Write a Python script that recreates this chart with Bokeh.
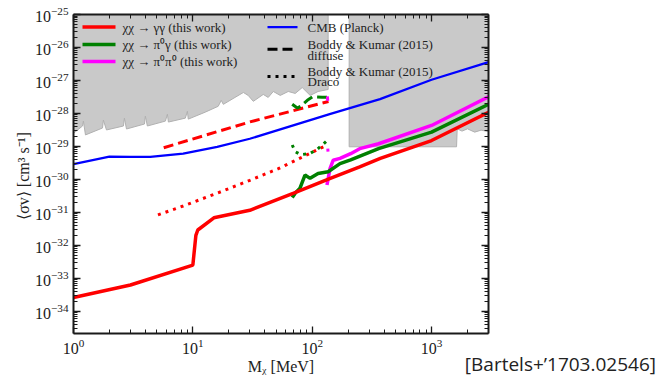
from bokeh.plotting import figure
from bokeh.layouts import row
from bokeh.models import (LogAxis, FixedTicker, LogTickFormatter, CustomJSTickFormatter,
                          Range1d, LinearScale, Div)
from bokeh.core.properties import value
from bokeh.embed import file_html
from bokeh.resources import INLINE

SERIF = "Liberation Serif"
INK = "#1a1a1a"

# ---- upper limits on <sigma v> [cm^3 s^-1] vs dark-matter mass [MeV] ----
# chi chi -> gamma gamma (this work)
mass_gg = [1, 3, 10, 10.6, 11, 15, 30, 70, 140, 250, 372, 1000, 3000]
sv_gg = [2.6e-34, 6.2e-34, 2.5e-33, 2.0e-32, 2.9e-32, 6.8e-32, 1.15e-31,
         3.8e-31, 1.05e-30, 2.4e-30, 4.3e-30, 1.5e-29, 1.07e-28]

# chi chi -> pi0 gamma (this work)
mass_pg = [68, 72, 79, 87, 96, 112, 136, 171, 210, 360, 1000, 3000]
sv_pg = [2.8e-31, 3.8e-31, 5.4e-31, 1.35e-30, 1.07e-30, 1.5e-30, 1.7e-30,
         3.0e-30, 3.9e-30, 8.5e-30, 2.7e-29, 1.9e-28]

# chi chi -> pi0 pi0 (this work)
mass_pp = [133, 141, 150, 171, 210, 250, 360, 1000, 3000]
sv_pp = [6.7e-31, 2.1e-30, 3.8e-30, 4.3e-30, 6.0e-30, 8.5e-30, 1.2e-29,
         4.3e-29, 3.2e-28]

# CMB (Planck)
mass_cmb = [1, 2, 3, 4.4, 8.3, 16, 30, 140, 370, 1000, 3000]
sv_cmb = [2.9e-30, 4.9e-30, 4.8e-30, 4.8e-30, 6.0e-30, 9.6e-30, 1.7e-29,
          9.5e-29, 2.7e-28, 1.05e-27, 3.6e-27]

# Boddy & Kumar (2015), diffuse
mass_bk_gg_diff = [5.7, 30, 137]
sv_bk_gg_diff = [9.1e-30, 5.5e-29, 2.3e-28]
mass_bk_pg_diff = [68, 75, 80, 91, 101, 121, 136]
sv_bk_pg_diff = [1.9e-28, 1.45e-28, 1.65e-28, 2.5e-28, 3.2e-28, 3.1e-28, 3.1e-28]
mass_bk_pp_diff = [134, 135]
sv_bk_pp_diff = [3.3e-28, 2.4e-28]

# Boddy & Kumar (2015), Draco
mass_bk_gg_draco = [5.1, 8.3, 16, 30, 52, 125]
sv_bk_gg_draco = [8.3e-32, 1.55e-31, 3.8e-31, 9.3e-31, 2.1e-30, 9.8e-30]
mass_bk_pg_draco = [68, 72, 80, 95, 110, 125, 136]
sv_bk_pg_draco = [1.1e-29, 6.9e-30, 5.6e-30, 6.0e-30, 8.0e-30, 1.2e-29, 1.6e-29]
mass_bk_pp_draco = [135, 136]
sv_bk_pp_draco = [8.5e-30, 6.3e-30]

# excluded regions (grey), lower edges
mass_excl_low = [1.0, 1.19, 1.21, 1.26, 1.75, 1.78, 1.89, 2.62, 2.67, 2.78,
                 3.93, 4.0, 4.16, 5.89, 6.12, 6.24, 8.65, 9.0, 9.16, 12.7,
                 16.3, 17.3, 18.0, 26.5, 29.1, 32.1, 38.9, 42.8, 47.2, 54.0,
                 63.0, 72.1, 82.5, 96.2, 112, 136]
sv_excl_low = [2.5e-29, 4.14e-29, 5.84e-29, 2.22e-29, 3.6e-29, 6.25e-29,
               3.14e-29, 4.14e-29, 7.18e-29, 3.36e-29, 4.75e-29, 8.24e-29,
               4.14e-29, 5.84e-29, 9.46e-29, 5.46e-29, 7.18e-29, 1.16e-28,
               6.7e-29, 1.09e-28, 1.64e-28, 2.48e-28, 1.88e-28, 4.31e-28,
               3.51e-28, 2.32e-28, 3.76e-28, 3.05e-28, 4.62e-28, 3.51e-28,
               4.62e-28, 4.03e-28, 6.08e-28, 3.51e-28, 4.62e-28, 5.31e-28]
mass_excl_high = [204, 1620, 1640, 1800, 2000, 2300, 2600, 3000]
sv_excl_high = [9.7e-30, 9.7e-30, 3.4e-29, 2.9e-29, 3.4e-29, 2.7e-29, 3.1e-29, 2.8e-29]
sv_ceiling = 1e-24

# axis decades
x_exponents = [0, 1, 2, 3]
y_exponents = list(range(-34, -24))

x_major = [10.0 ** e for e in x_exponents]
x_minor = [k * 10.0 ** e for e in x_exponents for k in range(2, 10) if k * 10.0 ** e <= 3000]
y_major = [10.0 ** e for e in y_exponents]
y_minor = [k * 10.0 ** e for e in range(-35, -25) for k in range(2, 10)]

FRAME_L, FRAME_R, FRAME_T, FRAME_B = 73, 488, 14, 337
MAIN_W, H = 490, 377

p = figure(width=MAIN_W, height=H, x_axis_type="log", y_axis_type="log",
           x_range=Range1d(1, 3000), y_range=Range1d(2.1e-35, 1e-25),
           output_backend="svg", toolbar_location=None,
           min_border_left=FRAME_L, min_border_right=MAIN_W - FRAME_R,
           min_border_top=FRAME_T, min_border_bottom=H - FRAME_B,
           background_fill_color="white", border_fill_color="white")
p.grid.visible = False
p.outline_line_color = None

# pixel-like helper coordinates for the key
p.extra_x_ranges = {"px": Range1d(FRAME_L, FRAME_R)}
p.extra_y_ranges = {"py": Range1d(FRAME_B, FRAME_T)}
p.extra_x_scales = {"px": LinearScale()}
p.extra_y_scales = {"py": LinearScale()}

blank_fmt = CustomJSTickFormatter(code="return '';")


def style_axis(ax, labels):
    ax.axis_line_color = INK
    ax.axis_line_width = 2
    ax.major_tick_line_color = INK
    ax.major_tick_line_width = 1.3
    ax.minor_tick_line_color = INK
    ax.minor_tick_line_width = 1
    ax.major_tick_in = 7
    ax.major_tick_out = 0
    ax.minor_tick_in = 4
    ax.minor_tick_out = 0
    if labels:
        ax.formatter = LogTickFormatter()
        ax.major_label_text_font = SERIF
        ax.major_label_text_font_size = "16px"
        ax.major_label_text_color = INK
        ax.major_label_standoff = 5
        ax.axis_label_text_font = SERIF
        ax.axis_label_text_font_style = "normal"
        ax.axis_label_text_color = "#222"
    else:
        ax.formatter = blank_fmt
        ax.major_label_text_font_size = "0px"
        ax.major_label_standoff = 0


xt = FixedTicker(ticks=x_major, minor_ticks=x_minor)
yt = FixedTicker(ticks=y_major, minor_ticks=y_minor)
p.xaxis.ticker = xt
p.yaxis.ticker = yt
style_axis(p.xaxis[0], True)
style_axis(p.yaxis[0], True)
p.xaxis.axis_label = "Mᵪ [MeV]"
p.xaxis.axis_label_text_font_size = "16px"
p.xaxis.axis_label_standoff = 1
p.yaxis.axis_label = "⟨σv⟩  [cm³ s⁻¹]"
p.yaxis.axis_label_text_font_size = "16px"
p.yaxis.axis_label_standoff = 0
top_ax = LogAxis(ticker=xt)
right_ax = LogAxis(ticker=yt)
style_axis(top_ax, False)
style_axis(right_ax, False)
p.add_layout(top_ax, "above")
p.add_layout(right_ax, "right")

# excluded regions
GREY = "#c9c9c9"
p.patch(mass_excl_low + [mass_excl_low[-1], mass_excl_low[0]],
        sv_excl_low + [sv_ceiling, sv_ceiling],
        fill_color=GREY, line_color="#b0b0b0", line_width=1)
p.patch(mass_excl_high + [mass_excl_high[-1], mass_excl_high[0]],
        sv_excl_high + [sv_ceiling, sv_ceiling],
        fill_color=GREY, line_color="#b0b0b0", line_width=1)

RED, GREEN, MAG, BLUE = "#ff0000", "#008000", "#ff00ff", "#0000ff"
DASH, DOT = "10 5", "3 5"

p.line(mass_cmb, sv_cmb, color=BLUE, line_width=2.3)
p.line(mass_bk_gg_diff, sv_bk_gg_diff, color=RED, line_width=3, line_dash=DASH)
p.line(mass_bk_pg_diff, sv_bk_pg_diff, color=GREEN, line_width=3, line_dash=DASH)
p.line(mass_bk_pp_diff, sv_bk_pp_diff, color=MAG, line_width=3, line_dash=DASH)
p.line(mass_bk_gg_draco, sv_bk_gg_draco, color=RED, line_width=3, line_dash=DOT)
p.line(mass_bk_pg_draco, sv_bk_pg_draco, color=GREEN, line_width=3, line_dash=DOT)
p.line(mass_bk_pp_draco, sv_bk_pp_draco, color=MAG, line_width=3, line_dash=DOT)
p.line(mass_pp, sv_pp, color=MAG, line_width=3.5)
p.line(mass_pg, sv_pg, color=GREEN, line_width=3.5)
p.line(mass_gg, sv_gg, color=RED, line_width=3.5)

# ---- key (two columns, drawn in the pixel helper coordinates) ----
key_left = ["χχ → γγ (this work)", "χχ → π⁰γ (this work)", "χχ → π⁰π⁰ (this work)"]
key_left_colors = [RED, GREEN, MAG]
rows_left = [26.7, 44.3, 61.7]
for label, col, yy in zip(key_left, key_left_colors, rows_left):
    p.segment(x0=[82], y0=[yy], x1=[115], y1=[yy], color=col, line_width=3.5,
              x_range_name="px", y_range_name="py")
    p.text(x=[122], y=[yy], text=[label], text_font=value(SERIF), text_font_size="13px",
           text_baseline="middle", text_color="#222", x_range_name="px", y_range_name="py")

p.segment(x0=[267], y0=[26.7], x1=[297], y1=[26.7], color=BLUE, line_width=2.3,
          x_range_name="px", y_range_name="py")
p.segment(x0=[267], y0=[49.3], x1=[297], y1=[49.3], color="black", line_width=3,
          line_dash=DASH, x_range_name="px", y_range_name="py")
p.segment(x0=[267], y0=[76.7], x1=[297], y1=[76.7], color="black", line_width=3,
          line_dash=DOT, x_range_name="px", y_range_name="py")
key_right = ["CMB (Planck)", "Boddy & Kumar (2015)", "diffuse",
             "Boddy & Kumar (2015)", "Draco"]
rows_right = [26.7, 44.3, 55.3, 71.3, 82.0]
p.text(x=[307] * len(key_right), y=rows_right, text=key_right,
       text_font=value(SERIF), text_font_size="13px", text_baseline="middle",
       text_color="#222", x_range_name="px", y_range_name="py")

# ---- reference tag, bottom-right corner of the page ----
TAG_OVERLAP = 26
TAG_W = 658 - MAIN_W + TAG_OVERLAP
tag = Div(
    text=("<span style=\"position:absolute; right:2px; bottom:2px; white-space:nowrap; "
          "font-family:'Open Sans'; font-size:19px; line-height:21px; color:#222;\">"
          "[Bartels+’1703.02546]</span>"),
    width=TAG_W, height=H, margin=(0, 0, 0, -TAG_OVERLAP),
    styles={"overflow": "visible", "background": "transparent"})

layout = row(p, tag, spacing=0)

with open("out.html", "w", encoding="utf-8") as f:
    f.write(file_html(layout, INLINE))
